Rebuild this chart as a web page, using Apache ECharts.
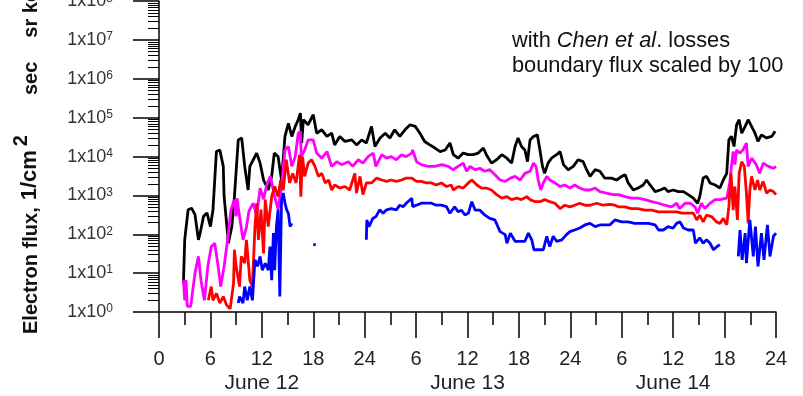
<!DOCTYPE html>
<html><head><meta charset="utf-8">
<script src="https://cdn.jsdelivr.net/npm/echarts@6/dist/echarts.min.js"></script>
<style>html,body{margin:0;padding:0;background:#fff}#c{width:803px;height:396px}</style>
</head><body><div id="c"></div>
<script>
// Tick labels
const xTickLabels = ['0','6','12','18','24','6','12','18','24','6','12','18','24'];
const dayLabels = ['June 12','June 13','June 14'];
const dayCenters = [12, 36, 60];
const yExponents = ['0','1','2','3','4','5','6','7','8','9'];

// Series: [hour since June 12 00:00, flux]
const blackData = [[2.85,5.5],[3.0,72],[3.4,430],[3.8,470],[4.2,320],[4.6,72],[4.8,107],[5.2,290],[5.6,355],[6.0,158],[6.3,430],[6.7,13500],[7.1,14800],[7.5,5600],[7.6,930],[8.1,59],[8.5,158],[8.8,930],[9.25,26900],[9.65,30200],[10.0,5600],[10.4,1380],[10.6,5600],[11.0,8300],[11.4,12300],[11.8,6800],[12.2,2500],[12.75,1380],[13.15,3100],[13.45,12300],[13.9,10000],[14.3,2500],[14.7,33000],[15.1,72000],[15.5,33000],[15.9,60000],[16.25,89000],[16.5,132000],[16.65,22400],[16.85,89000],[17.4,66000],[18.0,120000],[18.4,40000],[19.0,49000],[19.6,33000],[20.15,40000],[20.5,20000],[21.1,33000],[21.7,24500],[22.5,26900],[23.05,20000],[23.65,26900],[24.2,22400],[24.8,60000],[25.2,18200],[25.8,30200],[26.4,40000],[26.95,30200],[27.5,49000],[28.1,33000],[28.7,49000],[29.3,66000],[29.9,60000],[30.45,40000],[31.0,24500],[31.6,20000],[32.2,16600],[32.8,13500],[33.4,14800],[33.95,22400],[34.35,11200],[34.9,9100],[35.5,12300],[36.1,11200],[36.7,11200],[37.25,12300],[37.85,16600],[38.2,11200],[38.8,6800],[39.4,8300],[40.0,11200],[40.6,9100],[41.15,6800],[41.55,18200],[41.9,30200],[42.3,18200],[42.7,14800],[43.0,7400],[43.3,26900],[43.7,33000],[44.15,36300],[44.45,14800],[44.75,5600],[45.0,3700],[45.4,6800],[45.8,9100],[46.4,11200],[46.8,13500],[47.2,6200],[47.75,4600],[48.35,5600],[48.9,8300],[49.5,7400],[49.9,4600],[50.3,3100],[50.9,4600],[51.45,4200],[52.0,2800],[52.8,2800],[53.4,2500],[54.0,3100],[54.4,3400],[54.75,2100],[55.35,1380],[55.9,1550],[56.5,1860],[56.9,2500],[57.3,1860],[57.9,1260],[58.5,1380],[59.0,1550],[59.4,1260],[60.0,1380],[60.6,1260],[61.2,1260],[61.75,1050],[62.35,850],[62.85,630],[63.1,930],[63.5,2800],[63.9,3100],[64.3,2100],[64.9,1860],[65.45,1550],[65.85,2500],[66.25,3700],[66.5,26900],[66.8,33000],[67.1,18200],[67.4,66000],[67.7,89000],[68.0,40000],[68.4,60000],[68.75,89000],[69.15,60000],[69.55,40000],[69.9,24500],[70.3,36300],[70.9,30200],[71.5,33000],[71.9,44700]];

const magentaData = [[2.85,6.6],[3.0,2.0],[3.15,6.6],[3.3,1.4],[3.7,1.4],[4.2,10],[4.6,27],[4.9,6.6],[5.3,2.0],[5.7,15],[6.1,48],[6.5,59],[6.9,15],[7.2,4.5],[7.6,15],[8.0,72],[8.4,430],[8.8,780],[9.0,290],[9.1,850],[9.4,290],[9.8,72],[10.2,150],[10.5,400],[11.0,630],[11.4,300],[11.8,1550],[12.2,800],[12.6,2000],[13.0,3100],[13.5,930],[13.9,430],[14.3,1700],[14.7,14800],[15.1,18200],[15.5,5600],[15.9,10000],[16.25,39800],[16.5,44700],[16.6,10000],[17.0,14800],[17.4,26900],[18.0,26900],[18.4,12300],[19.0,9100],[19.6,13500],[20.15,5600],[20.75,7400],[21.3,6200],[22.1,7400],[22.6,5600],[23.25,8300],[23.8,6800],[24.4,10000],[25.0,12300],[25.3,5600],[26.0,11200],[26.55,9100],[27.1,10000],[27.7,8300],[28.3,11200],[28.85,10000],[29.5,12300],[29.6,14800],[30.05,7400],[30.6,6200],[31.4,5600],[32.2,5600],[33.0,6200],[33.75,5600],[34.3,4600],[34.9,5600],[35.5,6800],[35.9,4200],[36.3,5600],[36.9,4600],[37.45,5000],[38.0,4200],[38.6,4600],[39.2,3400],[39.8,2500],[40.4,2300],[41.0,2800],[41.55,3100],[42.15,2500],[42.7,3700],[43.3,4200],[43.7,6800],[44.0,5600],[44.25,2500],[44.55,1380],[44.85,2100],[45.25,3100],[45.6,2500],[46.2,2100],[46.8,1700],[47.35,1860],[47.95,1550],[48.5,1860],[49.1,1550],[49.7,1380],[50.3,1380],[50.9,1550],[51.45,1260],[52.2,1150],[53.0,1050],[53.6,1050],[54.4,930],[55.1,850],[55.9,850],[56.7,780],[57.5,690],[58.3,630],[59.0,560],[59.8,510],[60.4,630],[60.75,460],[61.4,630],[62.0,630],[62.55,510],[62.85,350],[63.3,630],[63.7,460],[64.3,630],[64.9,780],[65.45,780],[66.25,850],[66.6,2100],[66.8,5600],[67.0,13500],[67.2,6200],[67.4,14800],[67.75,12300],[68.15,14800],[68.55,22400],[68.75,5600],[69.15,9100],[69.7,6200],[70.1,3700],[70.5,6800],[71.1,5600],[71.7,5000],[72.0,5600]];

const redData = [[5.75,2.0],[6.1,4.5],[6.3,2.0],[6.7,3.0],[7.1,1.7],[7.5,2.5],[7.9,1.5],[8.3,1.2],[8.7,5.5],[8.8,40],[9.0,15],[9.4,4.5],[9.6,27],[10.0,18],[10.2,72],[10.6,6.6],[10.9,4.5],[11.2,158],[11.4,630],[11.6,72],[11.9,430],[12.2,32],[12.4,780],[12.75,158],[13.15,930],[13.5,1700],[13.9,930],[14.2,2500],[14.5,1380],[14.85,8300],[15.25,2100],[15.6,3700],[16.0,2100],[16.4,11200],[16.55,930],[16.75,10000],[17.0,3100],[17.4,6800],[17.8,8300],[18.2,5600],[18.6,3100],[19.0,3700],[19.4,2100],[19.8,2500],[20.15,1380],[20.5,1860],[21.1,1550],[21.7,1700],[22.25,1380],[22.85,3700],[23.05,1150],[23.45,3100],[23.8,1050],[24.2,2100],[24.8,2100],[25.4,2800],[26.0,2500],[26.55,2300],[27.1,2500],[27.7,2300],[28.3,2500],[28.85,2800],[29.5,2800],[30.05,2300],[30.6,2300],[31.2,2100],[31.8,2100],[32.35,1860],[32.95,2100],[33.55,1700],[34.1,1860],[34.35,1380],[34.9,1700],[35.5,1550],[36.1,2100],[36.5,2500],[37.1,1860],[37.65,1550],[38.2,1550],[38.8,1380],[39.4,1050],[40.0,850],[40.6,930],[41.15,780],[41.75,850],[42.3,780],[42.9,930],[43.3,780],[43.9,690],[44.45,690],[45.0,780],[45.6,690],[46.2,630],[46.8,460],[47.35,560],[47.95,510],[48.5,560],[49.1,630],[49.7,560],[50.3,560],[51.1,630],[51.8,560],[52.6,590],[53.2,560],[53.6,510],[54.4,510],[55.1,460],[55.9,460],[56.7,420],[57.5,420],[58.3,380],[59.0,380],[59.8,380],[60.4,380],[61.0,350],[61.75,350],[62.35,350],[62.75,234],[63.1,310],[63.5,209],[63.9,310],[64.5,282],[65.05,209],[65.45,191],[65.85,257],[66.25,174],[66.5,513],[66.75,3700],[67.0,417],[67.2,1700],[67.5,234],[67.7,3700],[68.0,7400],[68.3,5600],[68.55,1150],[68.75,191],[68.95,1380],[69.15,3100],[69.55,1380],[69.85,2500],[70.1,1380],[70.5,2300],[70.9,1150],[71.3,1380],[71.7,1260],[72.0,1050]];

const blueData = [[9.25,1.7],[9.4,2.5],[9.8,1.7],[10.0,4.5],[10.3,2.0],[10.6,4.5],[10.9,2.0],[11.2,22],[11.5,15],[11.8,27],[12.05,12],[12.4,18],[12.75,12],[12.95,48],[13.15,6.6],[13.35,107],[13.5,12],[13.7,158],[13.9,427],[14.1,2.5],[14.3,776],[14.5,1150],[14.7,631],[14.9,427],[15.1,347],[15.3,158],[15.5,191],[16.0,null],[18.0,54],[18.3,54],[20.0,null],[24.2,72],[24.25,234],[24.5,158],[24.95,257],[25.3,282],[25.75,427],[26.15,347],[26.55,427],[27.1,457],[27.7,427],[28.1,562],[28.5,513],[28.85,631],[29.5,851],[29.6,513],[30.05,562],[30.6,631],[31.2,631],[31.8,631],[32.35,562],[32.95,562],[33.55,513],[33.95,347],[34.15,316],[34.5,513],[34.9,380],[35.3,417],[35.7,316],[36.1,347],[36.5,692],[36.9,417],[37.45,417],[38.0,316],[38.6,257],[39.2,234],[39.8,117],[40.4,98],[40.6,59],[41.0,107],[41.55,66],[42.15,66],[42.7,66],[43.1,107],[43.5,72],[43.75,40],[44.25,40],[44.85,40],[45.25,89],[45.6,48],[46.0,89],[46.4,66],[47.0,72],[47.55,98],[47.95,117],[48.5,129],[49.1,145],[49.7,174],[50.3,191],[50.9,158],[51.45,174],[52.0,174],[52.6,174],[53.2,234],[54.0,209],[54.75,209],[55.5,191],[56.3,191],[57.1,191],[57.9,174],[58.3,129],[58.85,129],[59.4,158],[60.0,145],[60.4,191],[60.8,209],[61.2,145],[61.75,129],[62.35,129],[62.6,59],[63.1,81],[63.5,59],[63.9,72],[64.3,59],[64.7,40],[65.1,48],[65.45,54],[66.5,null],[67.6,27],[67.8,129],[68.05,22],[68.4,107],[68.55,18],[68.95,234],[69.35,27],[69.6,158],[69.9,15],[70.3,107],[70.6,22],[71.0,174],[71.3,27],[71.7,89],[72.0,107]];

const FONT = 'Liberation Sans, Arial, sans-serif';
const chart = echarts.init(document.getElementById('c'), null, {renderer: 'canvas'});

function lineSeries(name, data, color) {
  return {
    name: name, type: 'line', data: data, showSymbol: false, symbol: 'none',
    connectNulls: false, animation: false,
    lineStyle: {color: color, width: 2.8}, itemStyle: {color: color}
  };
}

chart.setOption({
  animation: false,
  backgroundColor: '#fff',
  grid: {left: 159, right: 27, top: 1.2, bottom: 84, containLabel: false, outerBoundsMode: 'none'},
  xAxis: [{
    type: 'value', min: 0, max: 72, interval: 6,
    axisLine: {show: true, lineStyle: {color: '#000', width: 1.5}},
    axisTick: {show: true, length: 26, lineStyle: {color: '#000', width: 1.5}},
    minorTick: {show: true, splitNumber: 2, length: 13, lineStyle: {color: '#000', width: 1.5}},
    splitLine: {show: false},
    axisLabel: {
      margin: 37, color: '#222', fontSize: 20, fontFamily: FONT,
      formatter: function (v) { return xTickLabels[Math.round(v / 6)]; }
    }
  }, {
    type: 'value', min: 0, max: 72, position: 'bottom', offset: 0,
    axisLine: {show: false}, axisTick: {show: false}, splitLine: {show: false},
    axisLabel: {
      show: true, customValues: dayCenters, margin: 61, color: '#222', fontSize: 21, fontFamily: FONT,
      formatter: function (v) { return dayLabels[dayCenters.indexOf(v)]; }
    }
  }],
  yAxis: {
    type: 'log', logBase: 10, min: 1, max: 1e8,
    axisLine: {show: true, lineStyle: {color: '#000', width: 1.5}},
    axisTick: {show: true, length: 26, lineStyle: {color: '#000', width: 1.5}},
    minorTick: {show: true, splitNumber: 9, length: 11, lineStyle: {color: '#000', width: 1}},
    splitLine: {show: false},
    axisLabel: {
      margin: 46,
      formatter: function (v) { return '{b|1x10}{s|' + yExponents[Math.round(Math.log10(v))] + '}'; },
      rich: {
        b: {fontSize: 18, lineHeight: 18, color: '#333', fontFamily: FONT, verticalAlign: 'bottom'},
        s: {fontSize: 12, lineHeight: 12, color: '#333', fontFamily: FONT, verticalAlign: 'top'}
      }
    }
  },
  series: [
    lineSeries('black', blackData, '#000000'),
    lineSeries('magenta', magentaData, '#ff00ff'),
    lineSeries('red', redData, '#ff0000'),
    lineSeries('blue', blueData, '#0000ff')
  ],
  graphic: [{
    type: 'text', left: 512, top: 30, silent: true,
    style: {
      text: '{n|with }{i|Chen et al}{n|. losses}\n{n|boundary flux scaled by 100}',
      rich: {
        n: {fontSize: 21.8, lineHeight: 24.5, fontFamily: FONT, fill: '#111'},
        i: {fontSize: 21.8, lineHeight: 24.5, fontFamily: FONT, fontStyle: 'italic', fill: '#111'}
      }
    }
  }, {
    type: 'text', x: 26, y: 334, rotation: Math.PI / 2, silent: true,
    style: {
      text: '{t|Electron flux,}{c|1/cm}{u|2}{g|sec}{h|sr}{t| keV}',
      align: 'left', verticalAlign: 'middle',
      rich: {
        t: {fontSize: 20, fontWeight: 'bold', fontFamily: FONT, fill: '#111', verticalAlign: 'bottom'},
        c: {fontSize: 22, fontWeight: 'bold', fontFamily: FONT, fill: '#111', verticalAlign: 'bottom', padding: [0, 0, 0, 7]},
        u: {fontSize: 20, fontWeight: 'bold', fontFamily: FONT, fill: '#111', verticalAlign: 'bottom', padding: [0, 0, 10, 4]},
        g: {fontSize: 20, fontWeight: 'bold', fontFamily: FONT, fill: '#111', verticalAlign: 'bottom', padding: [0, 0, 0, 40]},
        h: {fontSize: 20, fontWeight: 'bold', fontFamily: FONT, fill: '#111', verticalAlign: 'bottom', padding: [0, 0, 0, 24]}
      }
    }
  }]
});
</script>
</body></html>
